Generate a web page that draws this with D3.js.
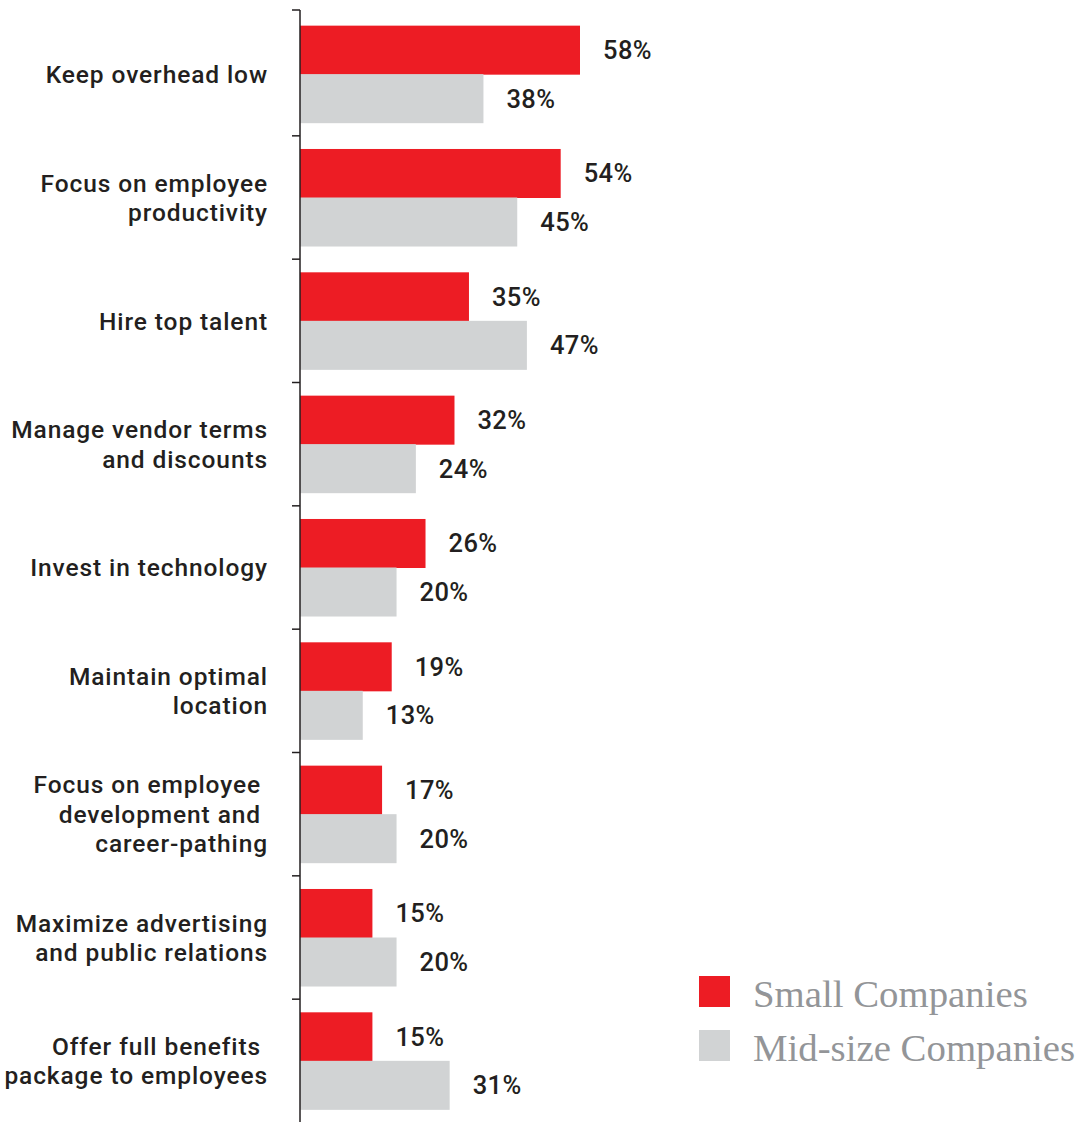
<!DOCTYPE html>
<html>
<head>
<meta charset="utf-8">
<script src="https://cdn.jsdelivr.net/npm/d3@7"></script>
<style>
  html, body { margin: 0; padding: 0; background: #fff; }
  svg { display: block; }
</style>
</head>
<body>
<svg id="chart" width="1082" height="1122"></svg>
<script>
const categories = [
  "Keep overhead low",
  "Focus on employee|productivity",
  "Hire top talent",
  "Manage vendor terms|and discounts",
  "Invest in technology",
  "Maintain optimal|location",
  "Focus on employee\u00A0|development and\u00A0|career-pathing",
  "Maximize advertising|and public relations",
  "Offer full benefits\u00A0|package to employees"
];
const seriesNames = ["Small Companies", "Mid-size Companies"];
const smallValues = [58, 54, 35, 32, 26, 19, 17, 15, 15];
const midValues = [38, 45, 47, 24, 20, 13, 20, 20, 31];
const colors = ["#ED1C24", "#D1D3D4"];

const svg = d3.select("#chart");
const axisX = 300;

const y = d3.scaleBand().domain(categories).range([12.5, 1122.5]).paddingInner(0).paddingOuter(0);
const yInner = d3.scaleBand().domain(seriesNames).range([0, y.bandwidth()]).paddingInner(0).paddingOuter(0.271);
const x = d3.scaleLinear().domain([0, 58]).range([axisX, 580]);

const rows = categories.map((c, i) => ({ cat: c, vals: [smallValues[i], midValues[i]] }));

const g = svg.append("g");
const groups = g.selectAll("g.row").data(rows).join("g")
  .attr("class", "row")
  .attr("transform", d => `translate(0,${y(d.cat)})`);

groups.selectAll("rect").data(d => d.vals.map((v, j) => ({ v, s: seriesNames[j], j })))
  .join("rect")
  .attr("x", x(0))
  .attr("y", d => yInner(d.s))
  .attr("width", d => x(d.v) - x(0))
  .attr("height", yInner.bandwidth() + 0.5)
  .attr("fill", d => colors[d.j]);

groups.selectAll("text.val").data(d => d.vals.map((v, j) => ({ v, s: seriesNames[j], j })))
  .join("text")
  .attr("class", "val")
  .attr("x", d => x(d.v) + 23)
  .attr("y", d => yInner(d.s) + yInner.bandwidth() / 2)
  .attr("dy", "0.36em")
  .attr("font-family", "Roboto, sans-serif")
  .attr("font-size", 25.5)
  .attr("font-weight", 500)
  .attr("letter-spacing", 0.4)
  .attr("fill", "#231F20")
  .text(d => d.v + "%");

// category labels
const lineH = 29.5;
groups.append("text")
  .attr("class", "cat")
  .attr("text-anchor", "end")
  .attr("font-family", "Roboto, sans-serif")
  .attr("font-size", 24.5)
  .attr("font-weight", 500)
  .attr("letter-spacing", 0.9)
  .attr("fill", "#231F20")
  .each(function(d) {
    const lines = d.cat.split("|");
    const t = d3.select(this);
    const c = y.bandwidth() / 2;
    lines.forEach((ln, k) => {
      t.append("tspan")
        .attr("x", 268)
        .attr("y", c + (k - (lines.length - 1) / 2) * lineH)
        .attr("dy", "0.36em")
        .text(ln);
    });
  });

// axis
const axisG = svg.append("g");
axisG.append("line")
  .attr("x1", axisX).attr("x2", axisX)
  .attr("y1", y.range()[0] - 2.5).attr("y2", y.range()[1])
  .attr("stroke", "#231F20").attr("stroke-width", 1.5);
const bounds = [y.range()[0] - 2.5].concat(categories.slice(1).map(c => y(c)));
axisG.selectAll("line.tick").data(bounds).join("line")
  .attr("class", "tick")
  .attr("x1", axisX - 8).attr("x2", axisX)
  .attr("y1", d => d).attr("y2", d => d)
  .attr("stroke", "#231F20").attr("stroke-width", 1.5);

// legend
const legend = svg.append("g").attr("transform", "translate(699,976)");
seriesNames.forEach((s, i) => {
  const lg = legend.append("g").attr("transform", `translate(0,${i * 54})`);
  lg.append("rect").attr("width", 31).attr("height", 31).attr("fill", colors[i]);
  lg.append("text")
    .attr("x", 54)
    .attr("y", 31)
    .attr("font-family", "'Liberation Serif', serif")
    .attr("font-size", 38.8)
    .attr("fill", "#939598")
    .text(s);
});
</script>
</body>
</html>
